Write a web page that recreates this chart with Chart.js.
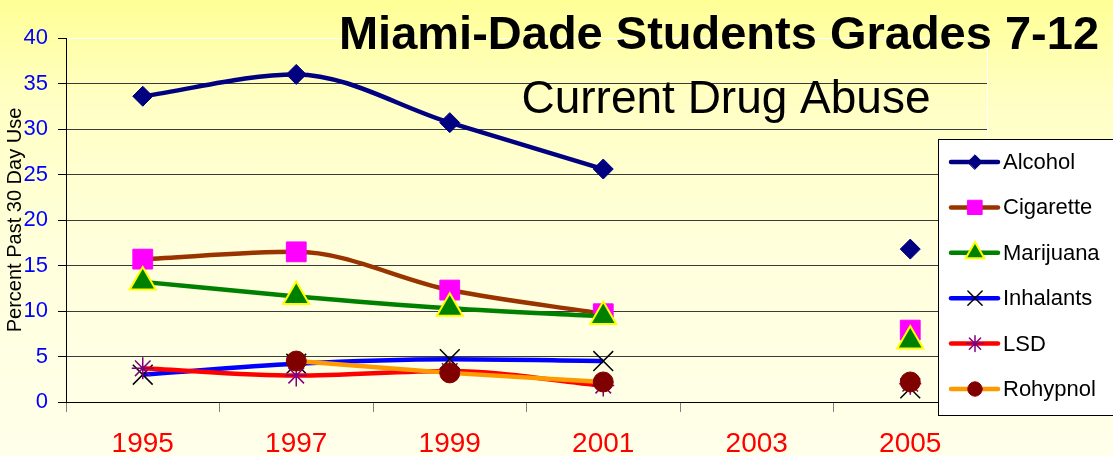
<!DOCTYPE html>
<html>
<head>
<meta charset="utf-8">
<script src="https://cdn.jsdelivr.net/npm/chart.js@4"></script>
<style>
    html, body {
        margin: 0;
        padding: 0;
        width: 1113px;
        height: 456px;
        overflow: hidden;
        background: linear-gradient(to bottom, #FFFF96 0%, #FFFFC4 22%, #FFFFDC 55%, #FFFFEA 100%);
    }
    canvas { display: block; }
</style>
</head>
<body>
<canvas id="drugChart" width="1113" height="456"></canvas>
<script>
const years = ['1995', '1997', '1999', '2001', '2003', '2005'];
const alcohol = [33.6, 36.0, 30.7, 25.6, null, 16.8];
const cigarette = [15.7, 16.5, 12.3, 9.7, null, 7.9];
const marijuana = [13.2, 11.6, 10.3, 9.4, null, 6.7];
const inhalants = [3.0, 4.2, 4.7, 4.5, null, 1.5];
const lsd = [3.7, 2.9, 3.4, 1.8, null, 2.0];
const rohypnol = [null, 4.5, 3.2, 2.2, null, 2.2];
const yTicks = [0, 5, 10, 15, 20, 25, 30, 35, 40];

const mainTitle = 'Miami-Dade Students Grades 7-12';
const subTitle = 'Current Drug Abuse';
const yTitle = 'Percent Past 30 Day Use';

const FONT = 'Arial, "Liberation Sans", sans-serif';

function makeSeries(label, data, line, style, radius, fill, border, borderWidth, order) {
    return {
        label: label,
        data: data,
        borderColor: line,
        borderWidth: 4.5,
        cubicInterpolationMode: 'monotone',
        fill: false,
        pointStyle: style,
        pointRadius: radius,
        pointHoverRadius: radius,
        pointBackgroundColor: fill,
        pointBorderColor: border,
        pointBorderWidth: borderWidth,
        order: order
    };
}

const datasets = [
    makeSeries('Alcohol', alcohol, '#000080', 'rectRot', 10, '#000080', '#000080', 1, 5),
    makeSeries('Cigarette', cigarette, '#993300', 'rect', 14, '#FF00FF', '#FF00FF', 1, 4),
    makeSeries('Marijuana', marijuana, '#008000', 'triangle', 15, '#008000', '#FFFF00', 2, 3),
    makeSeries('Inhalants', inhalants, '#0000FF', 'crossRot', 14, '#000000', '#000000', 1.5, 2),
    makeSeries('LSD', lsd, '#FF0000', 'star', 11, '#800080', '#800080', 1.5, 1),
    makeSeries('Rohypnol', rohypnol, '#FF9900', 'circle', 10, '#800000', '#800000', 1, 0)
];

// titles, legend box and the white plot border are drawn by hand
const decorations = {
    id: 'decorations',
    beforeDatasetsDraw(chart) {
        const ctx = chart.ctx;
        const area = chart.chartArea;
        ctx.save();
        ctx.strokeStyle = '#FFFFFF';
        ctx.lineWidth = 1;
        ctx.beginPath();
        ctx.moveTo(area.right + 0.5, area.top);
        ctx.lineTo(area.right + 0.5, area.bottom);
        ctx.stroke();
        ctx.restore();
    },
    afterDraw(chart) {
        const ctx = chart.ctx;
        ctx.save();

        ctx.fillStyle = '#000000';
        ctx.textAlign = 'center';
        ctx.textBaseline = 'alphabetic';
        ctx.font = 'bold 47px ' + FONT;
        ctx.fillText(mainTitle, 719, 49);
        ctx.font = '46px ' + FONT;
        ctx.fillText(subTitle, 726, 113);

        // legend
        const boxX = 938, boxY = 139, boxW = 200, boxH = 276;
        ctx.fillStyle = '#FFFFFF';
        ctx.fillRect(boxX, boxY, boxW, boxH);
        ctx.strokeStyle = '#000000';
        ctx.lineWidth = 1;
        ctx.strokeRect(boxX + 0.5, boxY + 0.5, boxW, boxH);

        chart.data.datasets.forEach((ds, i) => {
            const y = 162 + i * 45.4;
            ctx.strokeStyle = ds.borderColor;
            ctx.lineWidth = 4.5;
            ctx.lineCap = 'round';
            ctx.beginPath();
            ctx.moveTo(951, y);
            ctx.lineTo(998, y);
            ctx.stroke();

            ctx.fillStyle = ds.pointBackgroundColor;
            ctx.strokeStyle = ds.pointBorderColor;
            ctx.lineWidth = ds.pointBorderWidth;
            Chart.helpers.drawPoint(ctx, {
                pointStyle: ds.pointStyle,
                radius: ds.pointRadius * 0.72,
                rotation: 0,
                borderWidth: ds.pointBorderWidth
            }, 975, y);

            ctx.fillStyle = '#000000';
            ctx.font = '22px ' + FONT;
            ctx.textAlign = 'left';
            ctx.textBaseline = 'middle';
            ctx.fillText(ds.label, 1003, y + 1);
        });

        ctx.restore();
    }
};

const ctx = document.getElementById('drugChart').getContext('2d');
const chart = new Chart(ctx, {
    type: 'line',
    data: {
        labels: years,
        datasets: datasets
    },
    plugins: [decorations],
    options: {
        responsive: false,
        animation: false,
        devicePixelRatio: 1,
        layout: {
            padding: { left: 0, top: 38, right: 126, bottom: 0 }
        },
        plugins: {
            legend: { display: false },
            tooltip: { enabled: false }
        },
        scales: {
            x: {
                offset: true,
                afterFit: (scale) => { scale.height = 54; },
                border: { color: '#000000', width: 1 },
                grid: {
                    offset: true,
                    drawOnChartArea: false,
                    drawTicks: true,
                    tickLength: 10,
                    tickColor: '#808080',
                    tickWidth: 1
                },
                ticks: {
                    color: '#FF0000',
                    font: { family: FONT, size: 28 },
                    padding: 15,
                    maxRotation: 0,
                    autoSkip: false
                }
            },
            y: {
                min: 0,
                max: 40,
                afterFit: (scale) => { scale.width = 66; },
                afterBuildTicks: (scale) => {
                    scale.ticks = yTicks.map(v => ({ value: v }));
                },
                border: { color: '#000000', width: 1 },
                grid: {
                    color: (c) => (c.tick && c.tick.value === 40 ? '#FFFFFF' : '#3a3a3a'),
                    lineWidth: 1,
                    tickLength: 8,
                    tickColor: '#000000'
                },
                ticks: {
                    color: '#0000FF',
                    font: { family: FONT, size: 22 },
                    padding: 10
                },
                title: {
                    display: true,
                    text: yTitle,
                    color: '#000000',
                    font: { family: FONT, size: 20 },
                    padding: { top: 3, bottom: 0 }
                }
            }
        }
    }
});
</script>
</body>
</html>
